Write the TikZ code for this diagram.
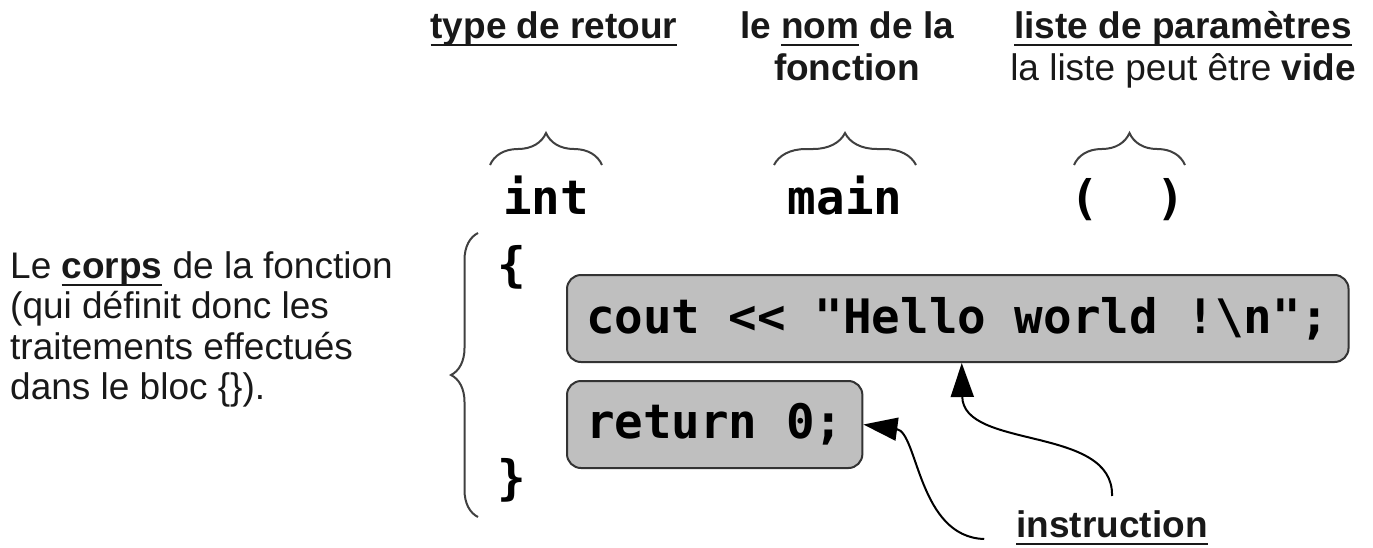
\documentclass[tikz,border=0pt]{standalone}
\usepackage{fontspec}
\setmainfont{Liberation Sans}
\newfontfamily\codefont{DejaVu Sans Mono}
\usetikzlibrary{decorations.pathreplacing,arrows.meta}
\newcommand\myul[1]{\setbox0\hbox{#1}\rlap{\rule[-8pt]{\wd0}{2pt}}\box0\relax}
\begin{document}
\begin{tikzpicture}[x=1pt,y=-1pt,
  lbl/.style={inner sep=0pt, font=\fontsize{37}{41}\selectfont, text=black!90},
  code/.style={inner sep=0pt, font=\codefont\bfseries\fontsize{47.5}{50}\selectfont},
  box/.style={draw=black!80, line width=2pt, fill=black!25, rounded corners=14pt,
              inner xsep=19pt, inner ysep=0pt, minimum height=87pt,
              font=\codefont\bfseries\fontsize{47.5}{50}\selectfont},
  brc/.style={decorate, decoration={brace, amplitude=#1}, line width=2pt, draw=black!75},
  arr/.style={-{Triangle[length=34pt,width=23pt]}, line width=2pt}]
\useasboundingbox (0,0) rectangle (1373,547);

% titles
\node[lbl, anchor=base] (tret) at (554,38) {\bfseries\myul{type de retour}};
\node[lbl, anchor=base] (tnom1) at (847,38) {\bfseries le \myul{nom} de la};
\node[lbl, anchor=base] (tnom2) at (847,80) {\bfseries fonction};
\node[lbl, anchor=base] (tpar1) at (1183,38) {\bfseries\myul{liste de paramètres}};
\node[lbl, anchor=base] (tpar2) at (1183,80) {la liste peut être \textbf{vide}};

% horizontal braces
\coordinate (b1a) at (490,165); \coordinate (b1b) at (602,165);
\coordinate (b2a) at (774,165); \coordinate (b2b) at (916,165);
\coordinate (b3a) at (1074,165); \coordinate (b3b) at (1185,165);
\draw[brc=32pt] (b1a) -- (b1b);
\draw[brc=32pt] (b2a) -- (b2b);
\draw[brc=32pt] (b3a) -- (b3b);

% signature
\node[code, anchor=base] (int) at (546,214) {int};
\node[code, anchor=base] (main) at (845,214) {main};
\node[code, anchor=base] (par) at (1128,214) {(\ \ )};

% body brace
\coordinate (vb1) at (478,517); \coordinate (vb2) at (478,233);
\draw[brc=27pt] (vb1) -- (vb2);

\node[code, anchor=base] (ob) at (512,281) {\{};
\node[code, anchor=base] (cb) at (512,494) {\}};

% left text
\node[lbl, anchor=base west] (c1) at (10,278) {Le \textbf{\myul{corps}} de la fonction};
\node[lbl, anchor=base west] (c2) at (10,318.5) {(qui définit donc les};
\node[lbl, anchor=base west] (c3) at (10,359) {traitements effectués};
\node[lbl, anchor=base west] (c4) at (10,399.5) {dans le bloc \{\}).};

% instruction boxes
\node[box, anchor=west] (cout) at (566,318.5) {cout <{}< "Hello world !\textbackslash n";};
\node[box, anchor=west] (ret) at (566,424.5) {return 0;};

% instruction label and arrows
\node[lbl, anchor=base] (instr) at (1112,537) {\bfseries\myul{instruction}};
\draw[arr] ([yshift=14pt]instr.north) .. controls (1114,425) and (963,450) .. ([xshift=4pt]cout.south);
\draw[arr] ([xshift=-32pt,yshift=-2pt]instr.base west) .. controls (918,537) and (918,432) .. (ret.east);
\end{tikzpicture}
\end{document}
